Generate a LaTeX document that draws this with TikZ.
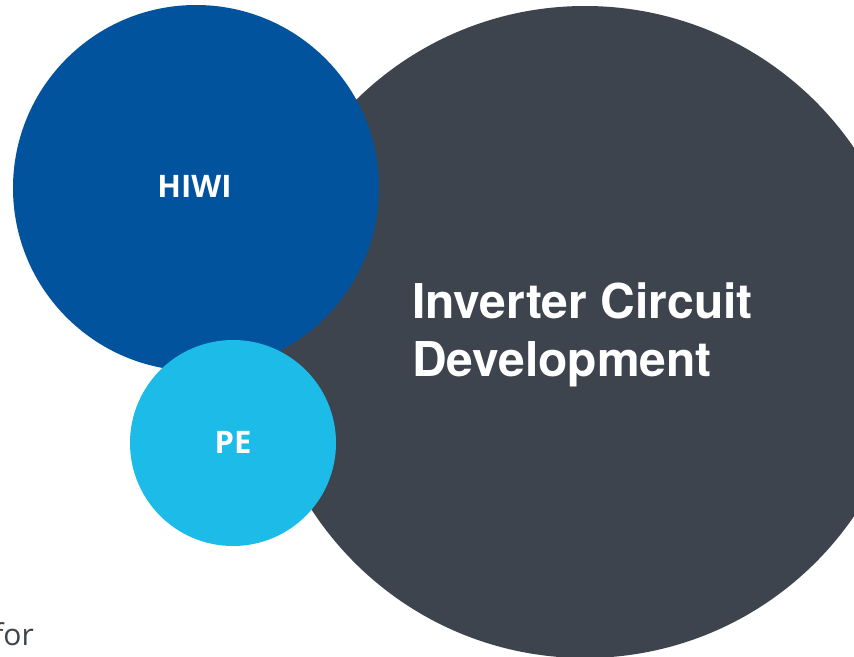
\documentclass[tikz,border=0pt]{standalone}
\usepackage{fontspec}
\setmainfont{Open Sans}
\newfontfamily\headfont{TeX Gyre Heros}
\begin{document}
\begin{tikzpicture}[x=1pt,y=-1pt,
  bubble/.style={circle,inner sep=0pt,draw=none},
  label/.style={text=white,font=\bfseries\fontsize{31}{36}\selectfont,inner sep=0pt}]
\definecolor{slate}{RGB}{62,68,77}
\definecolor{deepblue}{RGB}{2,83,158}
\definecolor{skyblue}{RGB}{28,187,232}
\useasboundingbox (0,0) rectangle (854,656);
\clip (0,0) rectangle (854,656);
\fill[white] (0,0) rectangle (854,656);
% project bubbles, largest at the back
\node[bubble,fill=slate,minimum size=652pt] (dev) at (585,332) {};
\node[bubble,fill=deepblue,minimum size=366pt] (hiwi) at (196,188) {};
\node[bubble,fill=skyblue,minimum size=206pt] (pe) at (233,443) {};
% labels
\node[label] (hiwitext) at (194.5,186.5) {HIWI};
\node[label] (petext) at (233,442) {PE};
\node[anchor=base west,align=left,text=white,inner sep=0pt,
  font=\headfont\bfseries\fontsize{48}{58}\selectfont] (devtext) at (412,376)
  {Inverter Circuit\\Development};
\node[anchor=base east,text=slate,inner sep=0pt,
  font=\fontsize{30}{36}\selectfont] (fortext) at (34,645) {for};
\end{tikzpicture}
\end{document}
